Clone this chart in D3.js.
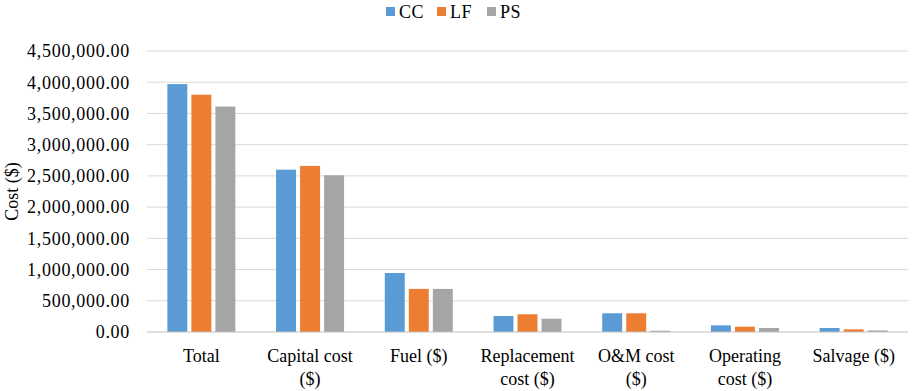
<!DOCTYPE html>
<html>
<head>
<meta charset="utf-8">
<script src="https://cdn.jsdelivr.net/npm/d3@7"></script>
<style>
  body { margin: 0; background: #fff; }
</style>
</head>
<body>
<div id="chart"></div>
<script>
const categories = [
  ["Total"],
  ["Capital cost", "($)"],
  ["Fuel ($)"],
  ["Replacement", "cost ($)"],
  ["O&M cost", "($)"],
  ["Operating", "cost ($)"],
  ["Salvage ($)"]
]
const seriesNames = ["CC", "LF", "PS"]
const ccValues = [3970000, 2600000, 945000, 256000, 300000, 107000, 64000]
const lfValues = [3800000, 2660000, 690000, 284000, 300000, 85000, 43000]
const psValues = [3610000, 2510000, 690000, 213000, 20000, 64000, 25000]
const yTicks = [0, 500000, 1000000, 1500000, 2000000, 2500000, 3000000, 3500000, 4000000, 4500000]
const colors = ["#5B9BD5", "#ED7D31", "#A5A5A5"]

const width = 913
const height = 391
const marginTop = 51
const marginRight = 5
const marginBottom = 59
const marginLeft = 147
const fontFamily = "'Liberation Serif', 'Times New Roman', Times, serif"

const series = [ccValues, lfValues, psValues]
const catIdx = d3.range(categories.length)

const xScale = d3.scaleBand(catIdx, [marginLeft, width - marginRight]).paddingInner(0).paddingOuter(0)
const groupWidth = 68
const xInner = d3.scaleBand(d3.range(seriesNames.length), [0, groupWidth]).paddingInner(0.17)
const yScale = d3.scaleLinear([0, 4500000], [height - marginBottom, marginTop])

const svg = d3.select("#chart")
  .append("svg")
  .attr("width", width)
  .attr("height", height)
  .attr("viewBox", [0, 0, width, height])
  .attr("font-family", fontFamily)
  .style("font-family", fontFamily)

// gridlines
svg.append("g")
  .selectAll("line")
  .data(yTicks.slice(1))
  .join("line")
  .attr("x1", marginLeft)
  .attr("x2", width - marginRight)
  .attr("y1", d => yScale(d))
  .attr("y2", d => yScale(d))
  .attr("stroke", "#d9d9d9")
  .attr("stroke-width", 1)

// y tick labels
const fmt = d3.format(",.2f")
svg.append("g")
  .selectAll("text")
  .data(yTicks)
  .join("text")
  .attr("x", marginLeft - 17)
  .attr("y", d => yScale(d))
  .attr("dy", "0.35em")
  .attr("text-anchor", "end")
  .attr("font-size", 18)
  .attr("letter-spacing", 0.7)
  .attr("fill", "#000")
  .text(d => fmt(d))

// bars
series.forEach((vals, s) => {
  svg.append("g")
    .attr("fill", colors[s])
    .selectAll("rect")
    .data(catIdx)
    .join("rect")
    .attr("x", i => xScale(i) + (xScale.bandwidth() - groupWidth) / 2 + xInner(s))
    .attr("width", xInner.bandwidth())
    .attr("y", i => yScale(vals[i]))
    .attr("height", i => yScale(0) - yScale(vals[i]))
})

// zero axis
svg.append("line")
  .attr("x1", marginLeft)
  .attr("x2", width - marginRight)
  .attr("y1", yScale(0))
  .attr("y2", yScale(0))
  .attr("stroke", "#bfbfbf")
  .attr("stroke-width", 1)

// x labels
const xl = svg.append("g")
  .selectAll("text")
  .data(catIdx)
  .join("text")
  .attr("text-anchor", "middle")
  .attr("font-size", 18)
  .attr("fill", "#000")
xl.selectAll("tspan")
  .data(i => categories[i].map(t => ({t, i})))
  .join("tspan")
  .attr("x", d => xScale(d.i) + xScale.bandwidth() / 2)
  .attr("y", (d, k) => 362 + k * 23)
  .text(d => d.t)

// y title
svg.append("text")
  .attr("transform", `translate(18,${(marginTop + height - marginBottom) / 2}) rotate(-90)`)
  .attr("text-anchor", "middle")
  .attr("font-size", 18)
  .attr("fill", "#000")
  .text("Cost ($)")

// legend
const legendX = [386, 437, 487]
const legend = svg.append("g")
seriesNames.forEach((name, s) => {
  legend.append("rect")
    .attr("x", legendX[s])
    .attr("y", 7)
    .attr("width", 9)
    .attr("height", 9)
    .attr("fill", colors[s])
  legend.append("text")
    .attr("x", legendX[s] + 13)
    .attr("y", 12)
    .attr("dy", "0.35em")
    .attr("font-size", 18)
    .attr("letter-spacing", 0.5)
    .attr("fill", "#000")
    .text(name)
})
</script>
</body>
</html>
